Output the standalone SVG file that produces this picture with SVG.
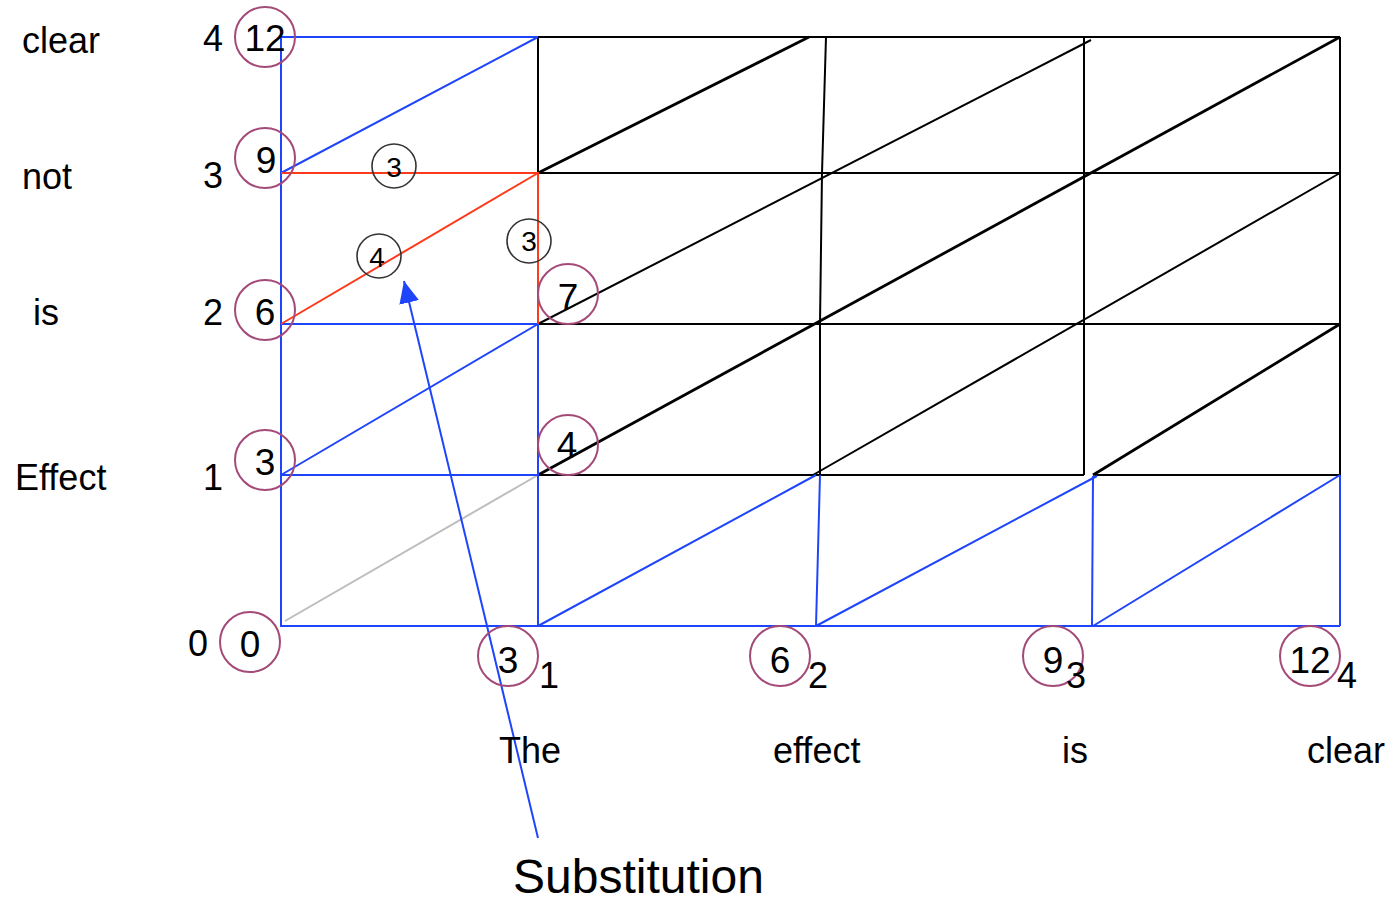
<svg xmlns="http://www.w3.org/2000/svg" width="1394" height="901" viewBox="0 0 1394 901">
<style>
.t{font-family:"Liberation Sans",Arial,sans-serif;fill:#000}
.lab{font-size:36px}
.big{font-size:37px;text-anchor:middle}
.sm{font-size:28px;text-anchor:middle}
.blue{stroke:#1f45fc;stroke-width:2;fill:none}
.red{stroke:#ff3a1a;stroke-width:2;fill:none}
.blk{stroke:#000;stroke-width:2;fill:none}
.blk3{stroke:#000;stroke-width:2.8;fill:none}
.grey{stroke:#bdbdbd;stroke-width:2;fill:none}
.pc{stroke:#a44a78;stroke-width:2;fill:none}
.sc{stroke:#333;stroke-width:1.6;fill:none}
</style>
<defs>
<marker id="ah" markerUnits="userSpaceOnUse" markerWidth="24" markerHeight="24" viewBox="0 0 24 24" refX="22" refY="12" orient="auto">
<path d="M0,2 L22,12 L0,22 Z" fill="#1f45fc"/>
</marker>
</defs>
<g id="connectors">
<path class="blk" d="M538,37 H1340 M538,173 H1340 M538,324 H1340 M538,475 H1084 M1095,475 H1340"/>
<path class="blk" d="M538,37 V173 M826,37 L822,173 L820,324 L820,475 M1084,37 V475 M1340,37 V475"/>
<path class="blk3" d="M538,173 L809,37"/>
<path class="blk" d="M538,324 L1091,40"/>
<path class="blk3" d="M538,475 L1340,37"/>
<path class="blk" d="M813,475 L1340,173"/>
<path class="blk3" d="M1093,475 L1340,324"/>
<path class="grey" d="M285,621 L538,475"/>
<path class="blue" d="M281,37 H538 M281,37 V626 H1340 M281,324 H538 M281,475 H538 M538,324 V626 M820,475 L816,626 M1093,476 L1092,626 M1340,475 V626"/>
<path class="blue" d="M281,173 L538,37 M281,475 L538,324 M538,626 L816,475 M816,626 L1097,476 M1093,626 L1340,475"/>
<path class="red" d="M281,173 H538 V324 M281,324 L538,173"/>
<path class="blue" stroke-width="1.6" d="M538,838 L404,281" marker-end="url(#ah)"/>
</g>
<g id="row-labels">
<text class="t lab" x="22" y="53">clear</text>
<text class="t lab" x="22" y="189">not</text>
<text class="t lab" x="33" y="325">is</text>
<text class="t lab" x="15" y="490">Effect</text>
<text class="t lab" x="203" y="51">4</text>
<text class="t lab" x="203" y="188">3</text>
<text class="t lab" x="203" y="325">2</text>
<text class="t lab" x="203" y="490">1</text>
<text class="t lab" x="188" y="656">0</text>
</g>
<g id="node-12-left"><circle class="pc" cx="265" cy="37" r="30"/><text class="t big" x="265" y="51">12</text></g>
<g id="node-9-left"><circle class="pc" cx="265" cy="158" r="30"/><text class="t big" x="266" y="173">9</text></g>
<g id="node-6-left"><circle class="pc" cx="265" cy="310" r="30"/><text class="t big" x="265" y="325">6</text></g>
<g id="node-3-left"><circle class="pc" cx="265" cy="460" r="30"/><text class="t big" x="265" y="475">3</text></g>
<g id="node-0"><circle class="pc" cx="250" cy="642" r="30"/><text class="t big" x="250" y="657">0</text></g>
<g id="node-7"><circle class="pc" cx="568" cy="294" r="30"/><text class="t big" x="568" y="310">7</text></g>
<g id="node-4"><circle class="pc" cx="568" cy="445" r="30"/><text class="t big" x="567" y="458">4</text></g>
<g id="node-3-bottom"><circle class="pc" cx="508" cy="656" r="30"/><text class="t big" x="508" y="673">3</text><text class="t lab" x="539" y="688">1</text></g>
<g id="node-6-bottom"><circle class="pc" cx="780" cy="656" r="30"/><text class="t big" x="780" y="673">6</text><text class="t lab" x="808" y="688">2</text></g>
<g id="node-9-bottom"><circle class="pc" cx="1053" cy="656" r="30"/><text class="t big" x="1053" y="673">9</text><text class="t lab" x="1066" y="688">3</text></g>
<g id="node-12-bottom"><circle class="pc" cx="1310" cy="656" r="30"/><text class="t big" x="1310" y="673">12</text><text class="t lab" x="1337" y="688">4</text></g>
<g id="cost-3a"><circle class="sc" cx="394" cy="166" r="22"/><text class="t sm" x="394" y="177">3</text></g>
<g id="cost-4"><circle class="sc" cx="379" cy="256" r="22"/><text class="t sm" x="377" y="267">4</text></g>
<g id="cost-3b"><circle class="sc" cx="529" cy="241" r="22"/><text class="t sm" x="529" y="251">3</text></g>
<g id="words">
<text class="t lab" x="499" y="763" font-size="37">The</text>
<text class="t lab" x="773" y="763" font-size="37">effect</text>
<text class="t lab" x="1062" y="763" font-size="37">is</text>
<text class="t lab" x="1307" y="763" font-size="37">clear</text>
</g>
<g id="substitution-label"><text class="t" x="513" y="893" font-size="48">Substitution</text></g>
</svg>
